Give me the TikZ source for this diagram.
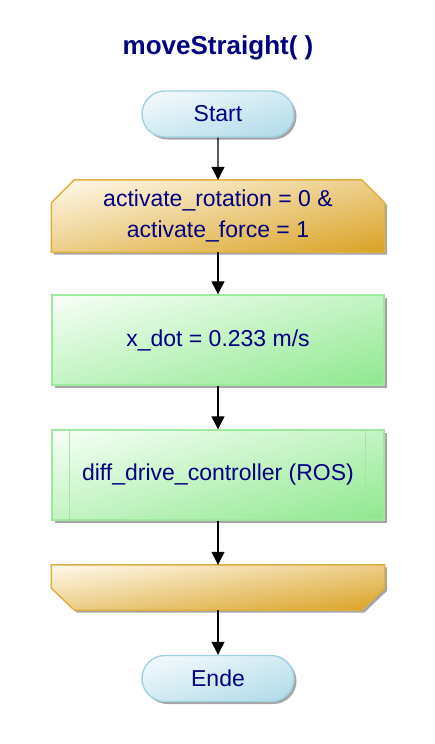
\documentclass[tikz,border=0pt]{standalone}
\usepackage{fontspec}
\setmainfont{Liberation Sans}
\usetikzlibrary{shapes.misc,arrows.meta,shadows}

\pgfdeclarelayer{background}
\pgfsetlayers{background,main}

\definecolor{navytext}{RGB}{0,0,128}
\definecolor{termline}{RGB}{160,210,228}
\definecolor{loopline}{RGB}{224,174,60}
\definecolor{procline}{RGB}{160,232,160}

% diagonal gradient: light at top left, dark at bottom right
% #2-#4 light rgb, #5-#7 dark minus light
\newcommand\diagshade[7]{%
  \pgfdeclarefunctionalshading{#1}{\pgfpointorigin}{\pgfpoint{100bp}{100bp}}{}{%
    sub 50 add 100 div
    dup 0 lt {pop 0} if dup 1 gt {pop 1} if
    dup dup
    #7 mul #4 add 3 1 roll
    #6 mul #3 add exch
    #5 mul #2 add 3 1 roll exch}}
\diagshade{termshade}{0.97}{0.985}{0.995}{-0.29}{-0.13}{-0.085}
\diagshade{loopshade}{1.0}{0.98}{0.93}{-0.145}{-0.345}{-0.79}
\diagshade{procshade}{0.97}{1.0}{0.97}{-0.41}{-0.09}{-0.41}

\begin{document}
\begin{tikzpicture}[x=1pt,y=-1pt,
  shad/.style={drop shadow={shadow xshift=2.5pt,shadow yshift=-2.5pt,fill=gray!70,opacity=1}},
  term/.style={rounded rectangle, draw=termline, line width=1.4pt,
    shade, shading=termshade,
    minimum width=152pt, minimum height=46pt, inner sep=0pt, shad,
    text=navytext, font=\fontsize{23}{28}\selectfont},
  loopbox/.style={rectangle, minimum width=333pt, inner sep=0pt,
    text=navytext, align=center, font=\fontsize{23}{31}\selectfont},
  loopfill/.style={shade, shading=loopshade, draw=loopline, line width=1.4pt,
    preaction={fill=gray!70, transform canvas={shift={(2.5pt,-2.5pt)}}}},
  proc/.style={rectangle, draw=procline, line width=1.4pt,
    shade, shading=procshade,
    minimum width=332pt, minimum height=90pt, inner sep=0pt, shad,
    text=navytext, font=\fontsize{23}{28}\selectfont},
  flow/.style={-{Triangle[width=13pt,length=13pt]}, line width=1.2pt, black}]

  % Page
  \useasboundingbox (0,0) rectangle (435,744);

  % Title
  \node[text=navytext, font=\bfseries\fontsize{26}{30}\selectfont] (title) at (218,48) {moveStraight( )};

  % Blocks
  \node[term] (start) at (218,114) {Start};
  \node[loopbox, minimum height=72pt] (loopbeg) at (218,216) {activate\_rotation = 0 \&\\activate\_force = 1};
  \node[proc] (speed) at (218,340) {x\_dot = 0.233 m/s};
  \node[proc] (ctrl) at (218,475) {diff\_drive\_controller (ROS)};
  \node[loopbox, minimum height=45pt] (loopfin) at (218,587.5) {};
  \node[term] (ende) at (218,678.5) {Ende};

  % Loop shapes behind the texts
  \begin{pgfonlayer}{background}
    \path[loopfill] ([xshift=23pt]loopbeg.north west) -- ([xshift=-23pt]loopbeg.north east)
      -- ([yshift=-23pt]loopbeg.north east) -- (loopbeg.south east)
      -- (loopbeg.south west) -- ([yshift=-23pt]loopbeg.north west) -- cycle;
    \path[loopfill] (loopfin.north west) -- (loopfin.north east)
      -- ([yshift=22pt]loopfin.south east) -- ([xshift=-23pt]loopfin.south east)
      -- ([xshift=23pt]loopfin.south west) -- ([yshift=22pt]loopfin.south west) -- cycle;
  \end{pgfonlayer}

  % Subroutine side bars
  \draw[procline, line width=1.4pt] ([xshift=18pt]ctrl.north west) -- ([xshift=18pt]ctrl.south west);
  \draw[procline, line width=1.4pt] ([xshift=-19pt]ctrl.north east) -- ([xshift=-19pt]ctrl.south east);

  % Connectors
  \draw[flow] (start) -- (loopbeg);
  \draw[flow] (loopbeg) -- (speed);
  \draw[flow] (speed) -- (ctrl);
  \draw[flow] (ctrl) -- (loopfin);
  \draw[flow] (loopfin) -- (ende);

\end{tikzpicture}
\end{document}
